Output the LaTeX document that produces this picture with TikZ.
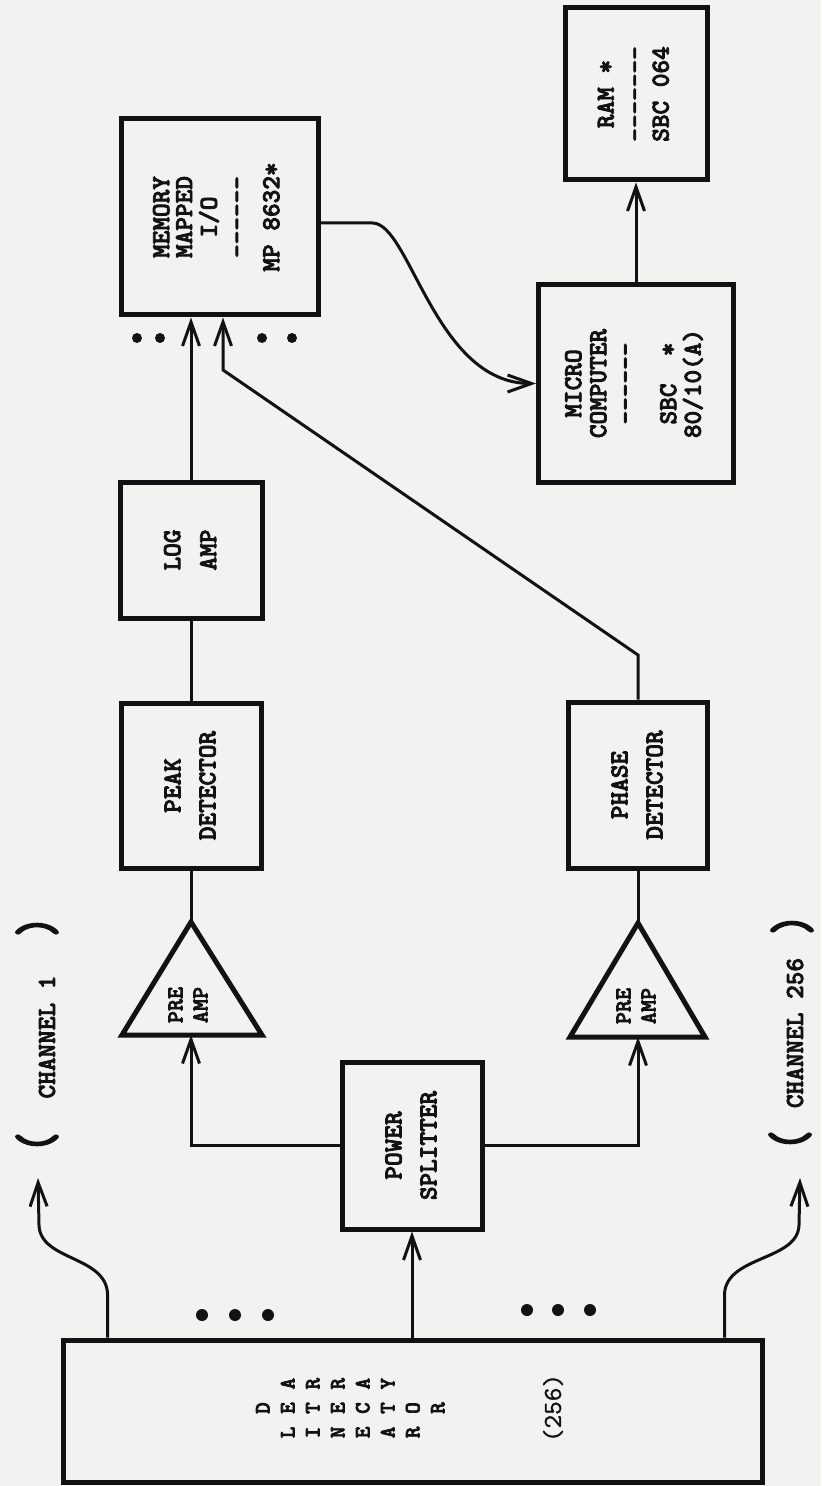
\documentclass[tikz,border=0pt]{standalone}
\usepackage{fontspec}
\newfontfamily\tw[FakeBold=3]{lmmonolt10-bold.otf}
\newfontfamily\twp[FakeBold=4]{lmmonolt10-bold.otf}
\newfontfamily\twr[FakeBold=1]{lmmono10-regular.otf}
\usetikzlibrary{arrows.meta}
\definecolor{paper}{RGB}{242,242,240}
\definecolor{ink}{RGB}{18,18,18}
\newcommand{\rtxt}[1]{\rotatebox{90}{\begin{tabular}{@{}c@{}}#1\end{tabular}}}
\begin{document}
\begin{tikzpicture}[x=0.5pt,y=-0.5pt,
  blk/.style={draw=ink, line width=2.5pt, inner sep=0pt, text=ink,
    font=\tw\fontsize{13}{12.5}\selectfont},
  lbl/.style={inner sep=0pt, text=ink, font=\tw\fontsize{13}{12.5}\selectfont},
  tri/.style={draw=ink, line width=2.5pt, line join=miter},
  wire/.style={draw=ink, line width=1.5pt},
  arr/.style={wire, -{Straight Barb[length=12pt,width=8.5pt]}},
  paren/.style={inner sep=0pt, text=ink, font=\twp\fontsize{27}{27}\selectfont}]
\fill[paper] (0,0) rectangle (821,1486);
\useasboundingbox (0,0) rectangle (821,1486);

% ---------- blocks ----------
\node[blk, minimum width=349.5pt, minimum height=71pt] (det) at (412.5,1411) {};
\node[lbl, font=\tw\fontsize{11}{12.5}\selectfont] (detname) at (352,1408)
  {\rotatebox{90}{\setlength\tabcolsep{3.2pt}\begin{tabular}{@{}ccc@{}}
   & D & \\ L & E & A\\ I & T & R\\ N & E & R\\ E & C & A\\ A & T & Y\\ R & O & \\ & R & \end{tabular}}};
\node[lbl, font=\twr\fontsize{13}{13}\selectfont] (detnum) at (553,1408) {\rotatebox{90}{(256)}};

\node[blk, minimum width=70pt, minimum height=83.5pt] (split) at (412,1145.5)
  {{\fontsize{13}{17.5}\selectfont\rtxt{POWER\\SPLITTER}}};

\coordinate (pa1t) at (191,922);  \coordinate (pa1b) at (191,1035);
\coordinate (pa2t) at (638,923);  \coordinate (pa2b) at (638,1037);
\draw[tri] (122,1035) -- (pa1t) -- (262,1035) -- cycle;
\draw[tri] (570,1037) -- (pa2t) -- (705,1037) -- cycle;
\node[lbl, font=\tw\fontsize{11.5}{12.5}\selectfont] (pa1lbl) at (190,1005) {\rtxt{PRE\\AMP}};
\node[lbl, font=\tw\fontsize{11.5}{12.5}\selectfont] (pa2lbl) at (638,1006) {\rtxt{PRE\\AMP}};

\node[blk, minimum width=70pt, minimum height=82.5pt] (peak) at (191,785.5)
  {{\fontsize{13}{17.5}\selectfont\rtxt{PEAK\\DETECTOR}}};
\node[blk, minimum width=69.5pt, minimum height=83pt] (phase) at (638,785)
  {{\fontsize{13}{17.5}\selectfont\rtxt{PHASE\\DETECTOR}}};
\node[blk, minimum width=71pt, minimum height=68pt] (log) at (191,550)
  {{\fontsize{13}{18}\selectfont\rtxt{LOG\\AMP}}};
\node[blk, minimum width=98.5pt, minimum height=98pt] (mem) at (219.5,217)
  {{\fontsize{13}{11.25}\selectfont\rtxt{MEMORY\\MAPPED\\I/O\\[2.75pt]------\\[5.75pt]MP 8632*}}};
\node[blk, minimum width=97.5pt, minimum height=98.5pt] (micro) at (636,383.5)
  {\rtxt{MICRO\\COMPUTER\\[1pt]------\\[9pt]SBC~~*\\[-0.5pt]80/10(A)}};
\node[blk, minimum width=71pt, minimum height=86pt] (ram) at (636,94)
  {{\fontsize{13}{13}\selectfont\rtxt{RAM *\\[1.5pt]-------\\SBC 064}}};

% ---------- channel labels ----------
\node[lbl] (ch1) at (47,1037) {\rotatebox{90}{CHANNEL 1}};
\node[lbl] (ch256) at (795,1033) {\rotatebox{90}{CHANNEL 256}};
\node[paren] (lp1) at (37,1142) {\rotatebox{90}{\scalebox{0.7}[1]{(}}};
\node[paren] (rp1) at (37,927) {\rotatebox{90}{\scalebox{0.7}[1]{)}}};
\node[paren] (lp2) at (790,1140) {\rotatebox{90}{\scalebox{0.7}[1]{(}}};
\node[paren] (rp2) at (792,925) {\rotatebox{90}{\scalebox{0.7}[1]{)}}};
\coordinate (ch1tip) at (38,1178);
\coordinate (ch256tip) at (800,1178);

% ---------- dots ----------
\foreach \x in {202,235,268} \fill[ink] (\x,1315) circle (3pt);
\foreach \x in {527,558,590} \fill[ink] (\x,1310) circle (3pt);
\foreach \x in {137,160,262,292} \fill[ink] (\x,338) circle (2.5pt);

% ---------- connectors ----------
\draw[arr] (det.north -| split.south) -- (split.south);
\draw[arr] (split.west) -| (pa1b);
\draw[arr] (split.east) -| (pa2b);
\draw[wire] (pa1t) -- (pa1t |- peak.south);
\draw[wire] (pa2t) -- (pa2t |- phase.south);
\draw[wire] (peak.north) -- (log.south);
\draw[arr] (log.north) -- (log.north |- mem.south);
\coordinate (bend1) at (638,655);
\coordinate (bend2) at (223,370);
\draw[arr] (phase.north) -- (bend1) -- (bend2) -- (bend2 |- mem.south);
\draw[arr] ([yshift=-3pt]mem.east) -- ++(52,0) .. controls (410,223) and (435,383.5) .. (micro.west);
\draw[arr] (micro.north) -- (ram.south);
\draw[arr] ([xshift=23.5pt]det.north west) -- ++(0,-40) .. controls (110,1255) and (40,1262) .. (39,1225) -- (ch1tip);
\draw[arr] ([xshift=-20pt]det.north east) -- ++(0,-40) .. controls (722,1255) and (798,1262) .. (799,1225) -- (ch256tip);
\end{tikzpicture}
\end{document}
